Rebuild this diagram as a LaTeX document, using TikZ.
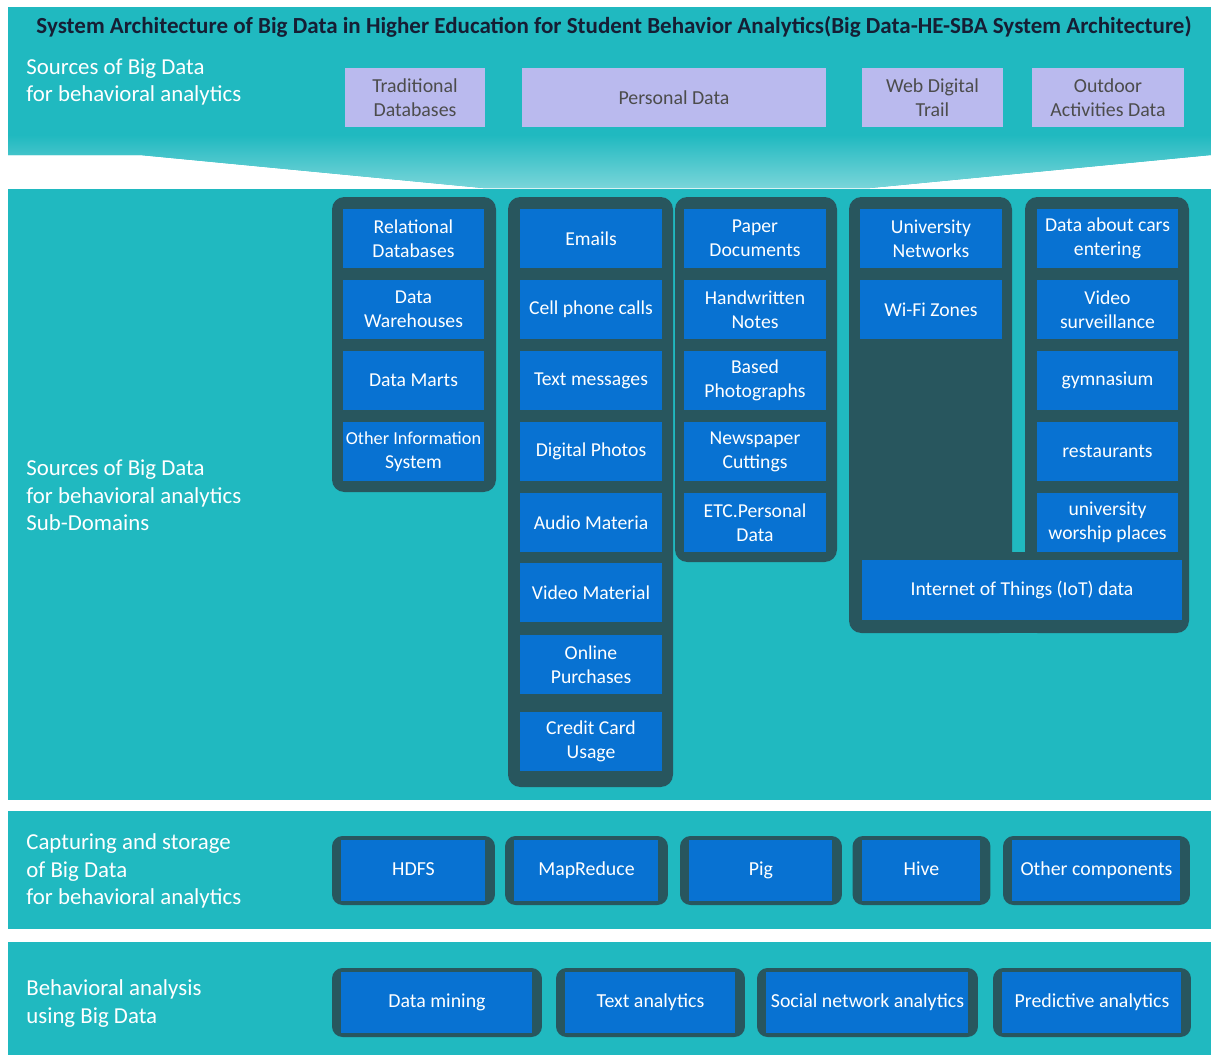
\documentclass[tikz,border=0pt]{standalone}
\usepackage{fontspec}
\setmainfont{Carlito}
\definecolor{bandteal}{RGB}{32,185,192}
\definecolor{slate}{RGB}{40,86,94}
\definecolor{boxblue}{RGB}{8,114,210}
\definecolor{lilac}{RGB}{186,186,238}
\definecolor{titleink}{RGB}{22,30,52}
\begin{document}
\begin{tikzpicture}[x=0.02cm, y=-0.02cm,
    band/.style={fill=bandteal},
    holder/.style={fill=slate, rounded corners=7pt},
    item/.style={fill=boxblue, text=white, minimum width=2.84cm, minimum height=1.18cm,
        inner sep=1pt, align=center, font=\fontsize{11.2}{13.7}\selectfont},
    source/.style={fill=lilac, text=black!70, minimum height=1.18cm, inner sep=1pt,
        align=center, font=\fontsize{11.3}{13.7}\selectfont},
    tool/.style={fill=slate, rounded corners=6pt, text=white, minimum height=1.38cm,
        text height=1.6ex, text depth=0.4ex, font=\fontsize{11.3}{13}\selectfont,
        path picture={\fill[boxblue, sharp corners]
            ([shift={(0.18cm,0.09cm)}]path picture bounding box.south west) rectangle
            ([shift={(-0.2cm,-0.08cm)}]path picture bounding box.north east);}},
    layer/.style={text=white, anchor=west, align=left, inner sep=0pt,
        font=\fontsize{13}{15.6}\selectfont}]
    \useasboundingbox (0,0) rectangle (1211,1055);

    % bands
    \fill[band] (8,7) -- (1211,7) -- (1211,155) -- (870,188) -- (483,188)
        -- (140,155) -- (8,155) -- cycle;
    \shade[top color=bandteal, bottom color=bandteal!60!white]
        (8,135) -- (1211,135) -- (1211,155) -- (870,188) -- (483,188)
        -- (140,155) -- (8,155) -- cycle;
    \fill[band] (8,189) rectangle (1211,800);
    \fill[band] (8,811) rectangle (1211,929);
    \fill[band] (8,942) rectangle (1211,1055);

    \node[text=titleink, font=\bfseries\fontsize{13.1}{15}\selectfont] (title) at (614,27)
        {System Architecture of Big Data in Higher Education for Student Behavior Analytics(Big Data-HE-SBA System Architecture)};

    % layer labels
    \node[layer] (lab1) at (26,82) {Sources of Big Data\\for behavioral analytics};
    \node[layer] (lab2) at (26,495.5) {Sources of Big Data\\for behavioral analytics\\Sub-Domains};
    \node[layer] (lab3) at (26,871) {Capturing and storage\\of Big Data\\for behavioral analytics};
    \node[layer] (lab4) at (26,1003.5) {Behavioral analysis\\using Big Data};

    % sources
    \node[source, minimum width=2.8cm] (trad) at (415,97.5) {Traditional\\Databases};
    \node[source, minimum width=6.08cm] (pers) at (674,97.5) {Personal Data};
    \node[source, minimum width=2.82cm] (web) at (932.5,97.5) {Web Digital\\Trail};
    \node[source, minimum width=3.04cm] (outd) at (1108,97.5) {Outdoor\\Activities Data};

    % sub-domain holders
    \fill[holder] (332,197) rectangle (496,492);
    \fill[holder] (508,197) rectangle (673,787);
    \fill[holder] (675,197) rectangle (837,562);
    \fill[holder] (849,197) rectangle (1012,633);
    \fill[holder] (1025,197) rectangle (1189,633);
    \fill[slate] (1000,552) rectangle (1040,633);

    \foreach \y/\txt [count=\i] in {238.5/{Relational\\Databases}, 309.5/{Data\\Warehouses},
        380.5/{Data Marts}, 451.5/{\fontsize{10.4}{13.7}\selectfont Other Information\\System}}
        \node[item] (trad\i) at (413.5,\y) {\txt};

    \foreach \y/\txt [count=\i] in {238.5/Emails, 309.5/{Cell phone calls},
        380.5/{Text messages}, 451.5/{Digital Photos}, 522.5/{Audio Materia},
        592.5/{Video Material}, 664.5/{Online\\Purchases}, 741.5/{Credit Card\\Usage}}
        \node[item] (pers\i) at (591,\y) {\txt};

    \foreach \y/\txt [count=\i] in {238.5/{Paper\\Documents}, 309.5/{Handwritten\\Notes},
        380.5/{Based\\Photographs}, 451.5/{Newspaper\\Cuttings}, 522.5/{ETC.Personal\\Data}}
        \node[item] (paper\i) at (755,\y) {\txt};

    \foreach \y/\txt [count=\i] in {238.5/{University\\Networks}, 309.5/{Wi-Fi Zones}}
        \node[item] (web\i) at (931,\y) {\txt};

    \foreach \y/\txt [count=\i] in {238.5/{Data about cars\\entering}, 309.5/{Video\\surveillance},
        380.5/gymnasium, 451.5/restaurants, 522.5/{university\\worship places}}
        \node[item] (outd\i) at (1107.5,\y) {\txt};

    \node[item, minimum width=6.4cm, minimum height=1.2cm] (iot) at (1022,590)
        {Internet of Things (IoT) data};

    % capturing and storage
    \node[tool, minimum width=3.26cm] (hdfs) at (413.5,870.5) {HDFS};
    \node[tool, minimum width=3.26cm] (mapred) at (586.5,870.5) {MapReduce};
    \node[tool, minimum width=3.24cm] (pig) at (761,870.5) {Pig};
    \node[tool, minimum width=2.76cm] (hive) at (921.5,870.5) {Hive};
    \node[tool, minimum width=3.74cm] (other) at (1096.5,870.5) {Other components};

    % analysis
    \node[tool, minimum width=4.2cm] (mining) at (437,1002.5) {Data mining};
    \node[tool, minimum width=3.78cm] (textan) at (650.5,1002.5) {Text analytics};
    \node[tool, minimum width=4.42cm] (social) at (867.5,1002.5) {Social network analytics};
    \node[tool, minimum width=3.96cm] (predict) at (1092,1002.5) {Predictive analytics};
\end{tikzpicture}
\end{document}
